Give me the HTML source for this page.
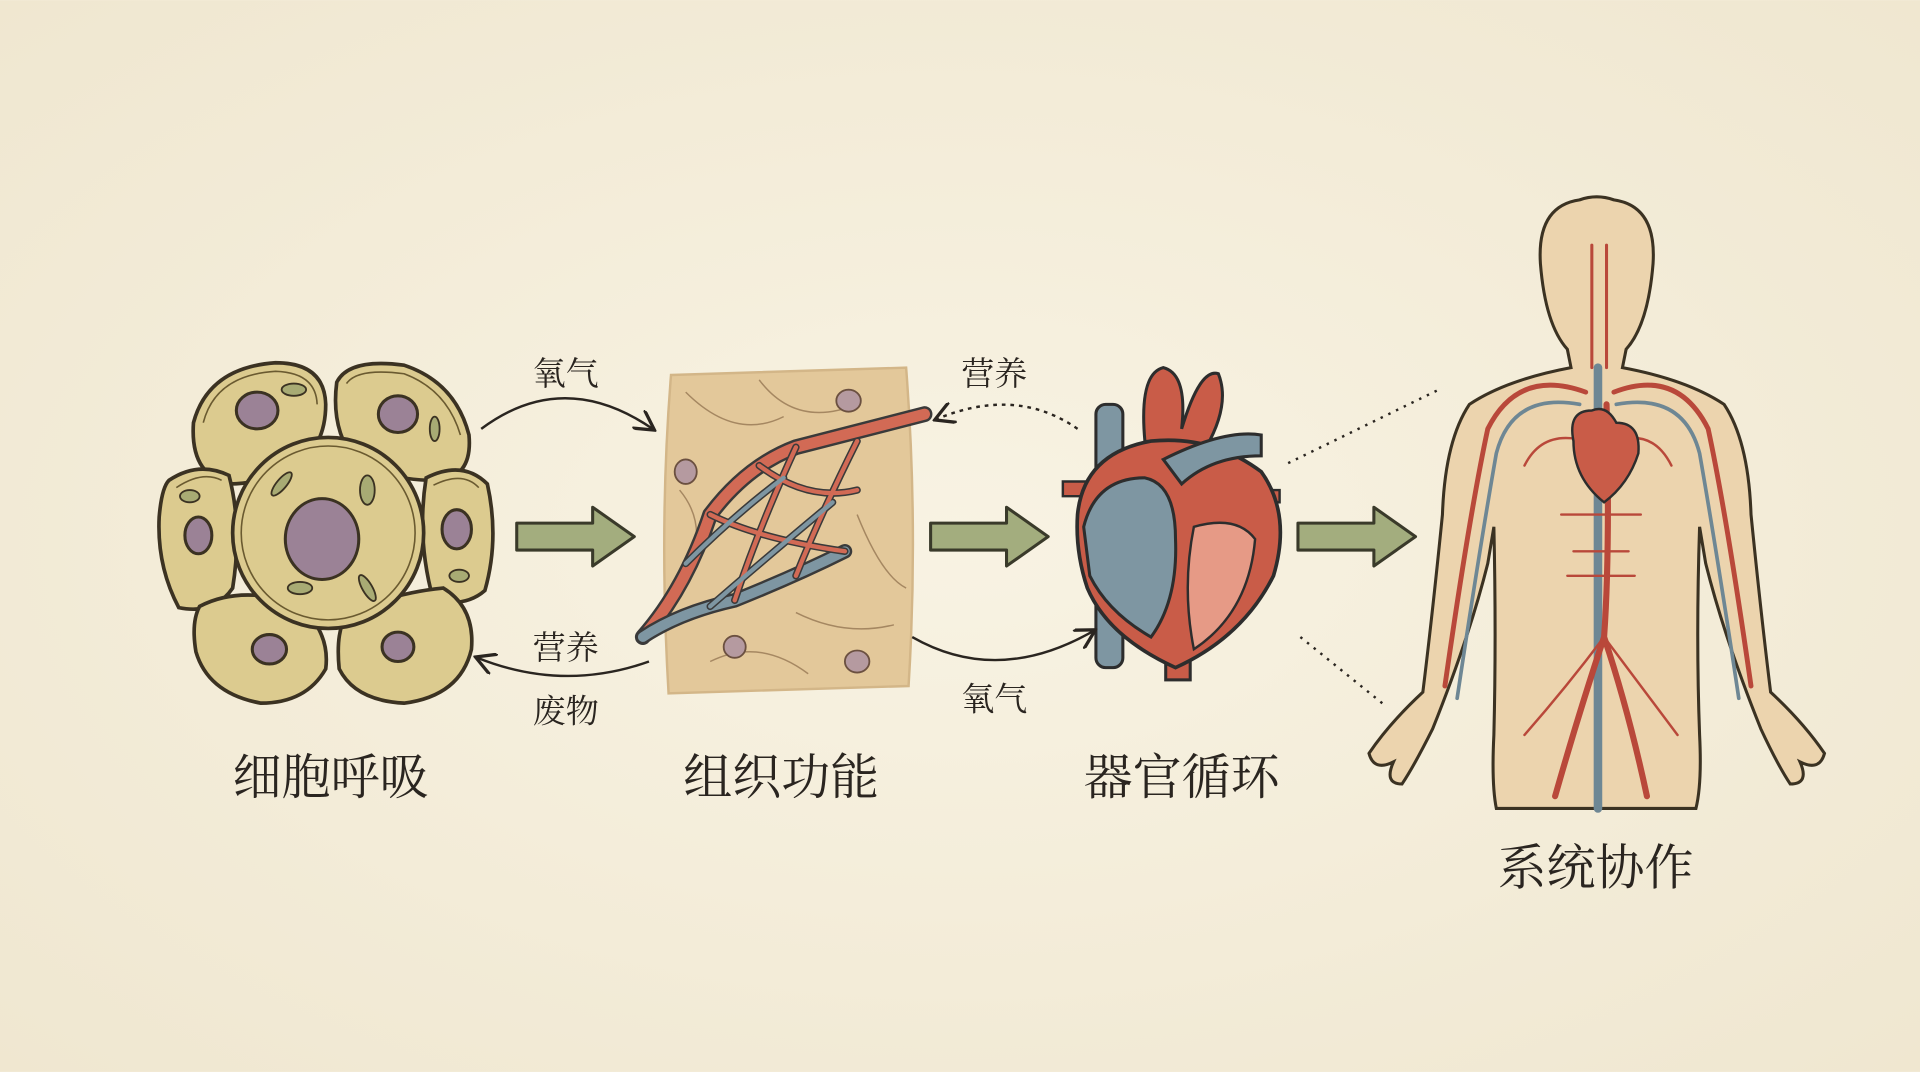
<!DOCTYPE html>
<html><head><meta charset="utf-8"><style>
html,body{margin:0;padding:0;width:1920px;height:1072px;overflow:hidden;background:#f5eedc}
svg{display:block}
text{font-family:"Liberation Serif","Noto Serif CJK SC","Noto Sans CJK SC",serif;fill:#2a2520}
</style></head><body>
<svg width="1920" height="1072" viewBox="0 0 1568 875" xmlns="http://www.w3.org/2000/svg">
<defs>
<radialGradient id="bg" cx="50%" cy="50%" r="75%"><stop offset="0" stop-color="#f8f3e3"/><stop offset="1" stop-color="#efe6cf"/></radialGradient>
<marker id="ah" viewBox="0 0 10 10" refX="8" refY="5" markerWidth="9" markerHeight="9" orient="auto"><path d="M0,0 L9,5 L0,10" fill="none" stroke="#2a2520" stroke-width="1.5"/></marker>
<g id="gar"><path d="M0,-11 H62 V-24 L96,0 L62,24 V11 H0 Z" fill="#a3ad7e" stroke="#3a3a2a" stroke-width="2.5" stroke-linejoin="round"/></g>
</defs>
<rect width="1568" height="875" fill="url(#bg)"/>

<!-- cells -->
<g stroke="#3b3222" stroke-width="3" fill="#dccb8f">
<path d="M158,345 Q170,300 225,296 Q265,296 266,330 Q266,365 240,382 Q212,395 188,395 Q155,388 158,345Z"/>
<path d="M275,312 Q285,292 330,298 Q372,312 383,355 Q386,388 360,392 Q318,393 290,376 Q270,350 275,312Z"/>
<path d="M138,392 Q162,376 187,388 Q198,430 190,480 Q175,502 146,496 Q128,462 130,422 Q132,398 138,392Z"/>
<path d="M348,390 Q378,375 398,395 Q408,440 396,482 Q380,496 354,490 Q340,440 348,390Z"/>
<path d="M163,495 Q195,478 242,492 Q270,515 266,546 Q250,574 213,574 Q170,566 160,532 Q156,508 163,495Z"/>
<path d="M283,502 Q320,484 362,480 Q388,496 385,530 Q376,568 330,574 Q290,572 277,546 Q274,516 283,502Z"/>
<circle cx="268" cy="435" r="78"/>
</g>
<g fill="none" stroke="#6a5a30" stroke-width="1.3">
<circle cx="268" cy="435" r="71"/>
<path d="M166,345 Q176,306 225,303 Q258,304 259,330"/>
<path d="M283,313 Q292,300 330,305 Q365,318 376,355"/>
<path d="M144,398 Q165,384 181,392"/>
<path d="M354,396 Q378,384 391,398"/>
</g>
<g fill="#9b8296" stroke="#3b3222" stroke-width="2.5">
<ellipse cx="263" cy="440" rx="30" ry="33"/>
<ellipse cx="210" cy="335" rx="17" ry="15"/><ellipse cx="325" cy="338" rx="16" ry="15"/>
<ellipse cx="162" cy="437" rx="11" ry="15"/><ellipse cx="373" cy="432" rx="12" ry="16"/>
<ellipse cx="220" cy="530" rx="14" ry="12"/><ellipse cx="325" cy="528" rx="13" ry="12"/>
</g>
<g fill="#a8ab74" stroke="#3b3222" stroke-width="1.5">
<ellipse cx="240" cy="318" rx="10" ry="5"/><ellipse cx="355" cy="350" rx="4" ry="10"/>
<ellipse cx="155" cy="405" rx="8" ry="5"/><ellipse cx="300" cy="400" rx="6" ry="12"/>
<ellipse cx="375" cy="470" rx="8" ry="5"/><ellipse cx="245" cy="480" rx="10" ry="5"/>
<ellipse cx="230" cy="395" rx="4" ry="12" transform="rotate(40 230 395)"/><ellipse cx="300" cy="480" rx="4" ry="12" transform="rotate(-30 300 480)"/>
</g>

<!-- tissue -->
<path d="M548,306 L740,300 Q750,430 742,560 L546,566 Q538,430 548,306Z" fill="#e3c89a" stroke="#d3b688" stroke-width="2"/>
<g fill="none" stroke="#8b6c4a" stroke-width="1.2" opacity="0.7">
<path d="M560,320 Q600,360 640,340"/><path d="M620,310 Q650,350 700,330"/><path d="M555,400 Q580,430 560,470"/><path d="M650,500 Q690,520 730,510"/><path d="M580,540 Q620,520 660,550"/><path d="M700,420 Q720,470 740,480"/>
</g>
<g fill="#b59aa0" stroke="#6b5040" stroke-width="1.5"><ellipse cx="693" cy="327" rx="10" ry="9"/><ellipse cx="560" cy="385" rx="9" ry="10"/><ellipse cx="600" cy="528" rx="9" ry="9"/><ellipse cx="700" cy="540" rx="10" ry="9"/></g>
<g fill="none" stroke-linecap="round">
<path d="M525,520 Q560,480 580,420 Q610,380 650,365 Q700,352 755,338" stroke="#3a3a3a" stroke-width="13"/>
<path d="M525,520 Q560,480 580,420 Q610,380 650,365 Q700,352 755,338" stroke="#d26a55" stroke-width="9"/>
<path d="M525,520 Q555,500 600,490 Q650,470 690,450" stroke="#3a3a3a" stroke-width="12"/>
<path d="M525,520 Q555,500 600,490 Q650,470 690,450" stroke="#7e96a2" stroke-width="8"/>
<g stroke="#3a3a3a" stroke-width="6"><path d="M580,420 Q620,440 690,450"/><path d="M620,380 Q660,410 700,400"/><path d="M600,490 Q620,430 650,365"/><path d="M650,470 Q670,420 700,360"/><path d="M560,460 Q600,420 640,390"/><path d="M580,495 Q620,460 680,410"/></g>
<g stroke="#d26a55" stroke-width="3.5"><path d="M580,420 Q620,440 690,450"/><path d="M620,380 Q660,410 700,400"/><path d="M600,490 Q620,430 650,365"/><path d="M650,470 Q670,420 700,360"/></g>
<g stroke="#7e96a2" stroke-width="3.5"><path d="M560,460 Q600,420 640,390"/><path d="M580,495 Q620,460 680,410"/></g>
</g>

<!-- heart -->
<rect x="895" y="330" width="22" height="215" rx="8" fill="#7e96a2" stroke="#2d2d2d" stroke-width="2.5"/>
<rect x="952" y="500" width="20" height="55" fill="#c95c48" stroke="#2d2d2d" stroke-width="2.5"/>
<path d="M935,360 Q930,305 950,300 Q970,305 965,350 Q980,300 995,305 Q1005,330 985,365Z" fill="#c95c48" stroke="#2d2d2d" stroke-width="2.5"/>
<path d="M868,393 H890 V405 H868Z M1025,400 H1045 V410 H1025Z" fill="#c95c48" stroke="#2d2d2d" stroke-width="2"/>
<path d="M880,420 Q885,370 940,360 Q990,355 1030,385 Q1055,420 1040,470 Q1015,520 960,545 Q905,520 888,480 Q878,450 880,420Z" fill="#c95c48" stroke="#2d2d2d" stroke-width="3"/>
<path d="M885,430 Q895,390 935,390 Q960,395 960,440 Q962,490 940,520 Q905,500 890,470Z" fill="#7e96a2" stroke="#2d2d2d" stroke-width="2.5"/>
<path d="M950,375 Q1000,350 1030,355 V372 Q990,372 965,395Z" fill="#7e96a2" stroke="#2d2d2d" stroke-width="2.5"/>
<path d="M975,430 Q1010,420 1025,440 Q1020,500 975,530 Q965,480 975,430Z" fill="#e69a86" stroke="#2d2d2d" stroke-width="2"/>

<!-- body -->
<g stroke="#3b3222" stroke-width="2.5" fill="#ecd4ae">
<path d="M1290,163 Q1255,168 1258,215 Q1262,265 1280,285 L1283,300 Q1230,310 1200,330 Q1180,360 1178,420 Q1170,500 1162,565 Q1135,590 1118,615 Q1122,630 1138,622 Q1130,640 1145,640 Q1155,625 1170,595 Q1200,520 1215,460 L1220,430 Q1222,520 1220,600 Q1218,640 1222,660 L1385,660 Q1390,640 1388,600 Q1385,520 1388,430 L1393,460 Q1408,520 1438,595 Q1452,625 1462,640 Q1478,640 1470,622 Q1486,630 1490,615 Q1473,590 1446,565 Q1438,500 1430,420 Q1428,360 1408,330 Q1378,310 1325,300 L1328,285 Q1346,265 1350,215 Q1353,168 1318,163 Q1304,158 1290,163Z"/>
</g>
<g fill="none" stroke-linecap="round">
<path d="M1305,300 V660" stroke="#6e8794" stroke-width="7"/>
<path d="M1312,330 Q1315,450 1310,520 Q1290,580 1270,650 M1310,520 Q1330,580 1345,650" stroke="#b9483a" stroke-width="5"/>
<path d="M1295,320 Q1240,300 1215,350 Q1200,420 1180,560 M1318,320 Q1370,300 1395,350 Q1410,420 1430,560" stroke="#b9483a" stroke-width="4"/>
<path d="M1290,330 Q1235,320 1222,370 Q1208,450 1190,570 M1320,330 Q1375,320 1388,370 Q1402,450 1420,570" stroke="#6e8794" stroke-width="3"/>
<path d="M1300,200 V300 M1312,200 V300" stroke="#b9483a" stroke-width="2.5"/>
<g stroke="#b9483a" stroke-width="2"><path d="M1305,420 H1275 M1305,420 H1340 M1305,470 H1280 M1305,470 H1335 M1310,520 Q1280,560 1245,600 M1310,520 Q1340,560 1370,600 M1295,360 Q1260,350 1245,380 M1320,360 Q1350,350 1365,380 M1305,450 H1285 M1305,450 H1330"/></g>
</g>
<path d="M1285,360 Q1280,335 1300,335 Q1312,330 1320,345 Q1340,345 1338,370 Q1330,395 1310,410 Q1285,390 1285,360Z" fill="#c95c48" stroke="#2d2d2d" stroke-width="2"/>

<!-- arrows -->
<use href="#gar" x="422" y="438"/><use href="#gar" x="760" y="438"/><use href="#gar" x="1060" y="438"/>
<g fill="none" stroke="#2a2520" stroke-width="2">
<path d="M393,350 Q460,300 533,350" marker-end="url(#ah)"/>
<path d="M530,540 Q460,565 390,537" marker-end="url(#ah)"/>
<path d="M880,350 Q830,315 765,342" stroke-dasharray="3,4" marker-end="url(#ah)"/>
<path d="M745,520 Q815,560 893,515" marker-end="url(#ah)"/>
<path d="M1052,378 L1175,318 M1062,520 L1130,575" stroke-dasharray="2,5"/>
</g>

<g font-size="27" text-anchor="middle">
<text x="462" y="314">氧气</text><text x="462" y="538">营养</text><text x="462" y="590">废物</text>
<text x="812" y="314">营养</text><text x="812" y="580">氧气</text>
</g>
<g font-size="40" text-anchor="middle">
<text x="270" y="648">细胞呼吸</text><text x="638" y="648">组织功能</text><text x="965" y="648">器官循环</text><text x="1303" y="722">系统协作</text>
</g>
</svg>
</body></html>
